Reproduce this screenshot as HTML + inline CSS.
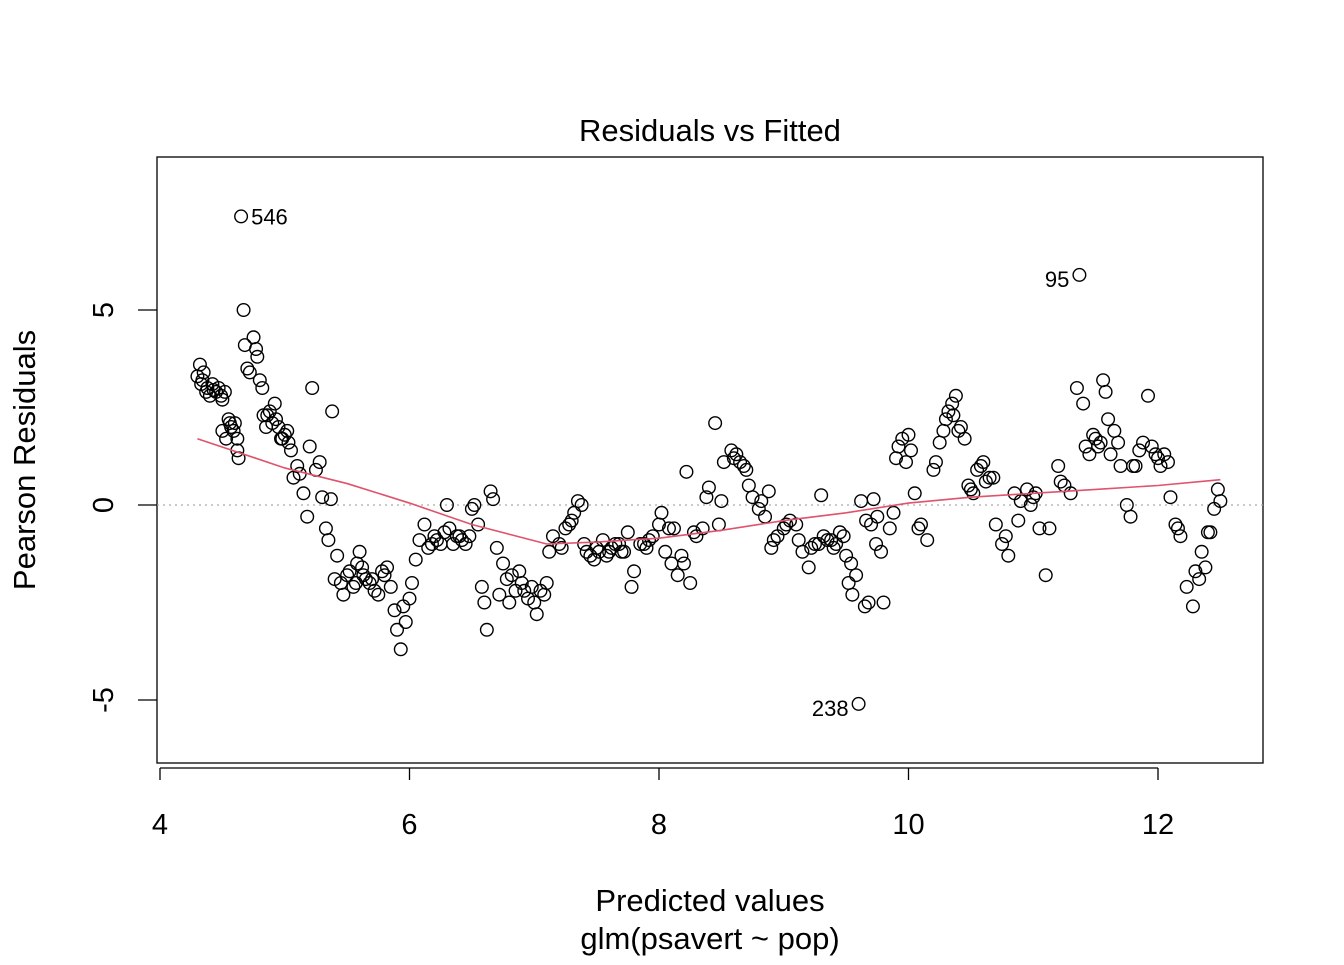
<!DOCTYPE html>
<html><head><meta charset="utf-8"><style>
body{margin:0;background:#fff}
svg text{font-family:"Liberation Sans",Arial,sans-serif;fill:#000}
</style></head><body>
<svg id="chart" width="1344" height="960" xmlns="http://www.w3.org/2000/svg">
<rect width="1344" height="960" fill="#fff"/>
<text x="710" y="141" font-size="31" text-anchor="middle">Residuals vs Fitted</text>
<rect x="157" y="157" width="1106" height="606" fill="none" stroke="#000" stroke-width="1.3"/>
<text x="710" y="911" font-size="31" text-anchor="middle">Predicted values</text>
<text x="710" y="949" font-size="31" text-anchor="middle">glm(psavert ~ pop)</text>
<text transform="translate(35,460) rotate(-90)" font-size="31" text-anchor="middle">Pearson Residuals</text>
<g id="g"></g>
</svg>
<script>
const xTicks=[4,6,8,10,12];
const yTicks=[-5,0,5];
const fx=[4.30,4.32,4.33,4.35,4.38,4.40,4.42,4.45,4.47,4.50,4.52,4.50,4.53,4.55,4.57,4.60,4.62,4.63,4.62,4.65,4.67,4.68,4.70,4.72,4.75,4.77,4.78,4.80,4.82,4.83,4.85,4.88,4.90,4.92,4.95,4.97,5.0,5.02,5.05,5.07,5.1,5.12,5.15,5.18,5.2,5.22,5.25,5.28,5.3,5.33,5.35,5.37,5.38,5.40,5.42,5.45,5.47,5.50,5.55,5.58,5.6,5.62,5.65,5.68,5.72,5.75,5.78,5.82,5.85,5.88,5.90,5.93,5.95,5.97,6.0,6.02,6.05,6.08,6.12,6.15,6.2,6.25,6.3,6.32,6.35,6.4,6.45,6.5,6.52,6.55,6.58,6.6,6.62,6.65,6.67,6.7,6.72,6.75,6.78,6.8,6.85,6.88,6.9,6.95,7.0,7.02,7.05,7.1,7.12,7.15,7.2,7.25,7.3,7.32,7.35,7.38,7.4,7.45,7.5,7.55,7.6,7.65,7.7,7.75,7.78,7.8,7.85,7.9,7.95,8.0,8.02,8.05,8.1,8.12,8.15,8.2,8.22,8.25,8.3,8.35,8.38,8.4,8.45,8.48,8.5,8.52,8.58,8.6,8.65,8.7,8.72,8.75,8.8,8.85,8.88,8.9,8.95,9.0,9.05,9.1,9.15,9.2,9.25,9.3,9.35,9.4,9.45,9.5,9.52,9.55,9.58,9.6,9.62,9.65,9.68,9.7,9.72,9.75,9.78,9.8,9.85,9.88,9.9,9.95,10.0,10.02,10.05,10.1,10.15,10.2,10.25,10.3,10.35,10.38,10.42,10.45,10.48,10.52,10.55,10.6,10.65,10.7,10.75,10.8,10.85,10.9,10.95,11.0,11.05,11.1,11.13,11.2,11.25,11.3,11.37,11.35,11.4,11.45,11.48,11.52,11.56,11.6,11.65,11.7,11.75,11.78,11.8,11.85,11.92,11.95,12.0,12.05,12.1,12.14,12.18,12.23,12.28,12.3,12.33,12.35,12.4,12.45,12.48,12.5,
4.34,4.37,4.43,4.49,4.56,4.59,4.86,4.93,4.98,5.03,5.52,5.57,5.63,5.70,5.80,6.18,6.22,6.28,6.38,6.42,6.48,6.82,6.92,6.98,7.08,7.22,7.28,7.42,7.48,7.52,7.58,7.62,7.68,7.72,7.88,7.92,8.08,8.18,8.28,8.62,8.68,8.82,8.92,9.02,9.12,9.22,9.28,9.32,9.38,9.42,9.48,9.54,9.66,9.74,9.92,9.98,10.08,10.22,10.28,10.32,10.36,10.40,10.50,10.58,10.62,10.68,10.78,10.88,10.98,11.02,11.22,11.42,11.5,11.54,11.58,11.62,11.68,11.82,11.88,11.98,12.02,12.08,12.16,12.38,12.42];
const fy=[3.3,3.6,3.1,3.4,3.0,2.8,3.1,2.9,3.0,2.7,2.9,1.9,1.7,2.2,2.0,2.1,1.7,1.2,1.4,7.4,5.0,4.1,3.5,3.4,4.3,4.0,3.8,3.2,3.0,2.3,2.0,2.4,2.1,2.6,2.0,1.7,1.8,1.9,1.4,0.7,1.0,0.8,0.3,-0.3,1.5,3.0,0.9,1.1,0.2,-0.6,-0.9,0.15,2.4,-1.9,-1.3,-2.0,-2.3,-1.8,-2.1,-1.5,-1.2,-1.6,-1.9,-2.0,-2.2,-2.3,-1.7,-1.6,-2.1,-2.7,-3.2,-3.7,-2.6,-3.0,-2.4,-2.0,-1.4,-0.9,-0.5,-1.1,-0.8,-1.0,0.0,-0.6,-1.0,-0.8,-1.0,-0.1,0.0,-0.5,-2.1,-2.5,-3.2,0.35,0.15,-1.1,-2.3,-1.5,-1.9,-2.5,-2.2,-1.7,-2.0,-2.4,-2.5,-2.8,-2.2,-2.0,-1.2,-0.8,-1.0,-0.6,-0.4,-0.2,0.1,0.0,-1.0,-1.3,-1.1,-0.9,-1.2,-1.0,-1.2,-0.7,-2.1,-1.7,-1.0,-1.1,-0.8,-0.5,-0.2,-1.2,-1.5,-0.6,-1.8,-1.5,0.85,-2.0,-0.8,-0.6,0.2,0.45,2.1,-0.5,0.1,1.1,1.4,1.2,1.1,0.9,0.5,0.2,-0.1,-0.3,0.35,-1.1,-0.8,-0.6,-0.4,-0.5,-1.2,-1.6,-1.0,0.25,-0.9,-1.1,-0.7,-1.3,-2.0,-2.3,-1.8,-5.1,0.1,-2.6,-2.5,-0.5,0.15,-0.3,-1.2,-2.5,-0.6,-0.2,1.2,1.7,1.8,1.4,0.3,-0.5,-0.9,0.9,1.6,2.2,2.6,2.8,2.0,1.7,0.5,0.3,0.9,1.1,0.7,-0.5,-1.0,-1.3,0.3,0.1,0.4,0.2,-0.6,-1.8,-0.6,1.0,0.5,0.3,5.9,3.0,2.6,1.3,1.8,1.5,3.2,2.2,1.9,1.0,0.0,-0.3,1.0,1.4,2.8,1.5,1.2,1.3,0.2,-0.5,-0.8,-2.1,-2.6,-1.7,-1.9,-1.2,-0.7,-0.1,0.4,0.1,
3.2,2.9,2.95,2.8,2.1,1.9,2.3,2.2,1.7,1.6,-1.7,-2.0,-1.8,-1.9,-1.8,-1.0,-0.9,-0.7,-0.8,-0.9,-0.8,-1.8,-2.2,-2.1,-2.3,-1.1,-0.5,-1.2,-1.4,-1.2,-1.3,-1.1,-1.0,-1.2,-1.0,-0.9,-0.6,-1.3,-0.7,1.3,1.0,0.1,-0.9,-0.5,-0.9,-1.1,-1.0,-0.8,-0.9,-1.0,-0.8,-1.5,-0.4,-1.0,1.5,1.1,-0.6,1.1,1.9,2.4,2.3,1.9,0.4,1.0,0.6,0.7,-0.8,-0.4,0.0,0.3,0.6,1.5,1.7,1.6,2.9,1.3,1.6,1.0,1.6,1.3,1.0,1.1,-0.6,-1.6,-0.7];
const loessX=[4.3,5.0,5.5,6.0,6.5,7.1,7.5,8.0,8.5,9.0,9.5,10.0,10.5,11.0,11.5,12.0,12.5];
const loessY=[1.7,0.95,0.55,0.05,-0.5,-1.0,-0.95,-0.85,-0.65,-0.4,-0.2,0.05,0.2,0.3,0.4,0.5,0.65];
const labelTexts=["546","95","238"];
const labelVals=[7.4,5.9,-5.1];
const labelSide=["r","l","l"];
const X=v=>160+(v-4)*124.75, Y=v=>505-v*39;
const g=document.getElementById('g'),NS="http://www.w3.org/2000/svg";
function mk(t,a){const e=document.createElementNS(NS,t);for(const k in a)e.setAttribute(k,a[k]);g.appendChild(e);return e;}
let l=mk('line',{x1:157,x2:1263,y1:Y(0),y2:Y(0),stroke:'#aaa','stroke-width':1.3,'stroke-dasharray':'2 4'});


l=mk('line',{x1:X(4),x2:X(12),y1:768,y2:768,stroke:'#000','stroke-width':1.3});


xTicks.forEach(t=>{const a=mk('line',{x1:X(t),x2:X(t),y1:768,y2:780,stroke:'#000','stroke-width':1.3});


const tx=mk('text',{x:X(t),y:834,'font-size':29,'text-anchor':'middle'});tx.textContent=t;

});
yTicks.forEach(t=>{const a=mk('line',{x1:138,x2:157,y1:Y(t),y2:Y(t),stroke:'#000','stroke-width':1.3});


const tx=mk('text',{transform:`translate(113,${Y(t)}) rotate(-90)`,'font-size':29,'text-anchor':'middle'});tx.textContent=t;

});
fx.forEach((v,i)=>{const c=mk('circle',{cx:X(v),cy:Y(fy[i]),r:6.3,fill:'none',stroke:'#000','stroke-width':1.4});

});
const p=mk('polyline',{points:loessX.map((v,i)=>X(v)+','+Y(loessY[i])).join(' '),fill:'none',stroke:'#DF536B','stroke-width':1.6});


labelTexts.forEach((s,k)=>{const i=fy.indexOf(labelVals[k]);const side=labelSide[k];
const t=mk('text',{x:X(fx[i])+(side=='r'?10:-10),y:Y(fy[i])+(side=='r'?8:12),'font-size':22,'text-anchor':side=='r'?'start':'end'});t.textContent=s;

});
</script>
</body></html>
